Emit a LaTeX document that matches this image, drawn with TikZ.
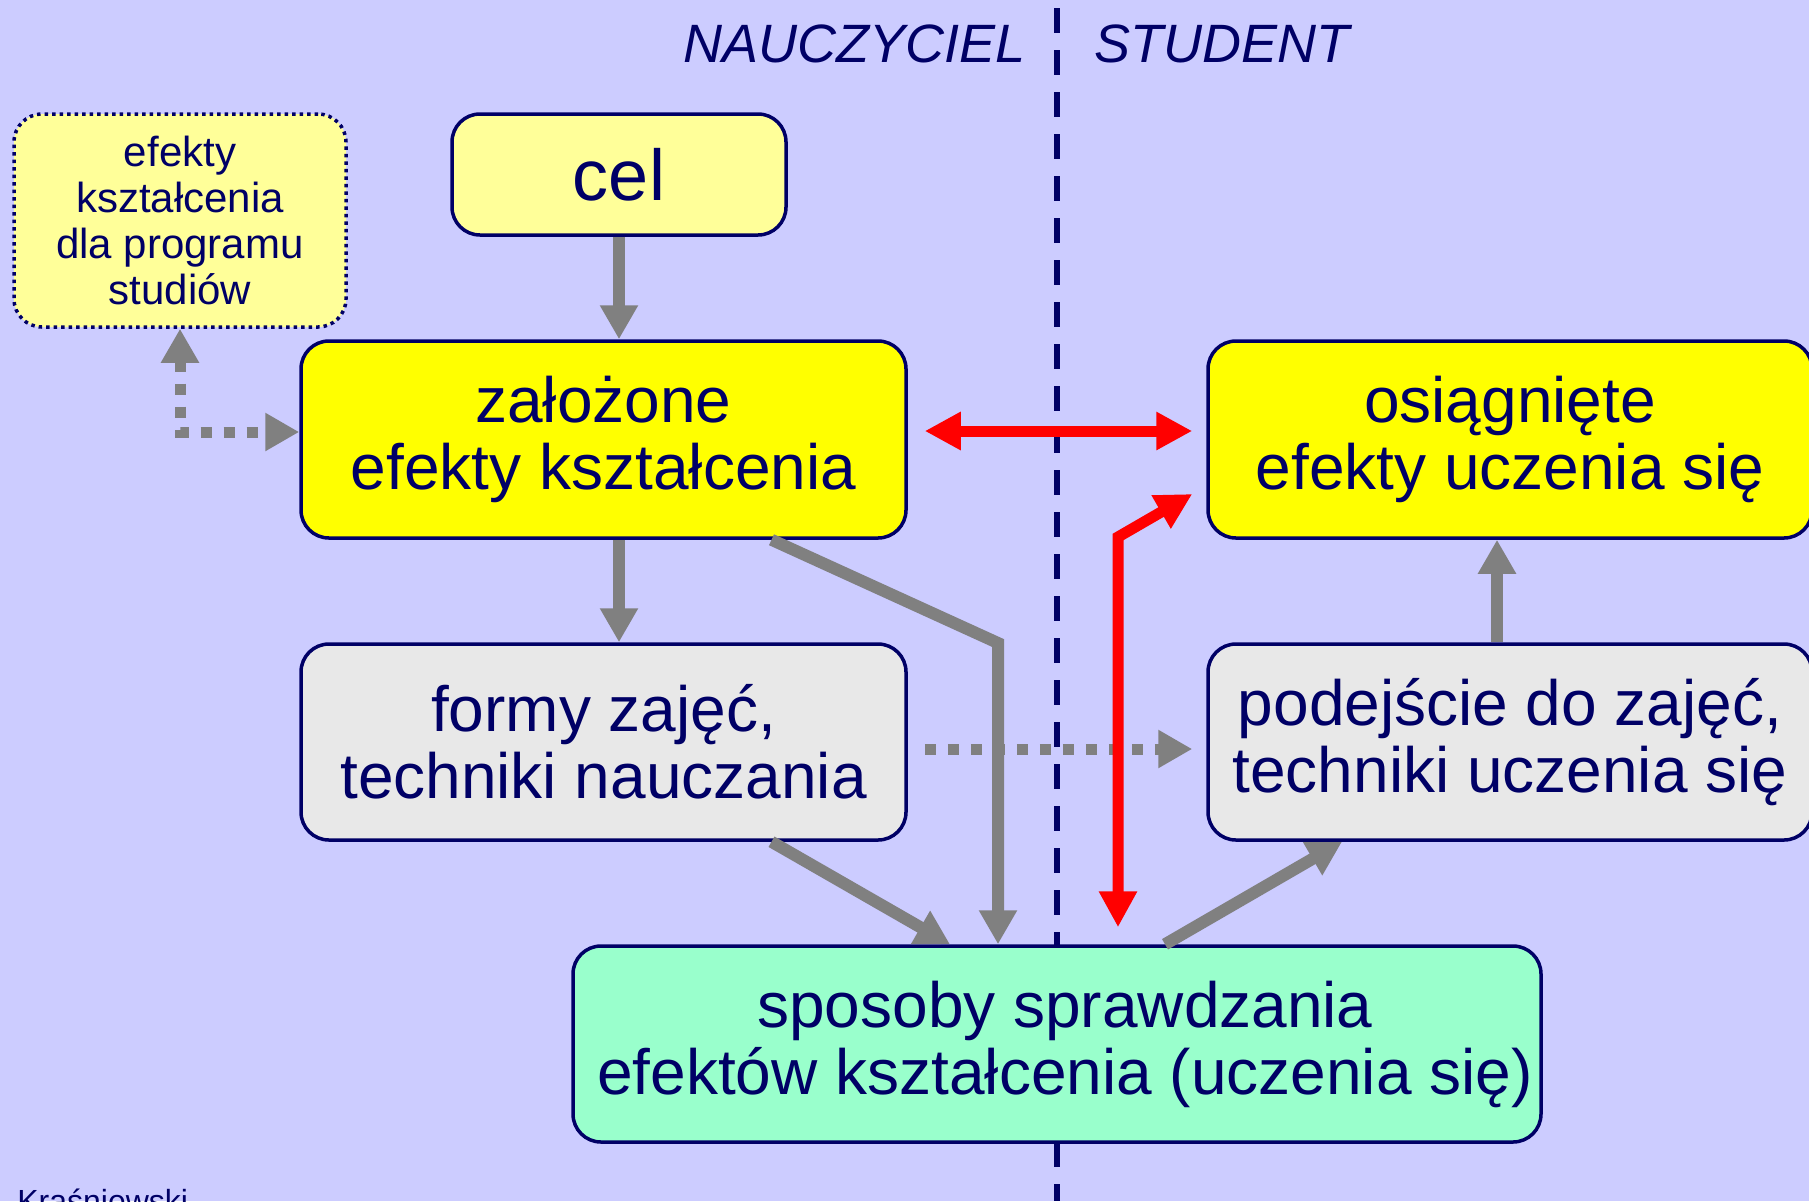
\documentclass[tikz,border=0pt]{standalone}
\usepackage{fontspec}
\setmainfont{Liberation Sans}
\usepackage{tikz}
\usetikzlibrary{arrows.meta}
\definecolor{bgblue}{HTML}{CCCCFF}
\definecolor{navy}{HTML}{000066}
\definecolor{goalyellow}{HTML}{FFFF99}
\definecolor{effyellow}{HTML}{FFFF00}
\definecolor{formgray}{HTML}{E8E8E8}
\definecolor{checkgreen}{HTML}{99FFCC}
\definecolor{arrowgray}{HTML}{808080}
\tikzstyle{block}=[draw=navy,line width=1.75pt,rounded corners=14pt,inner sep=0pt,align=center,text=navy,font=\fontsize{32}{33.5}\selectfont]
\tikzstyle{head}=[text=navy,inner sep=0pt,font=\fontsize{27}{30}\selectfont\itshape]
\tikzstyle{link}=[draw=arrowgray,line width=6pt]

\begin{document}
\begin{tikzpicture}[x=0.5pt,y=-0.5pt]
        \tikzset{link/.append style = {-{Triangle[width=18pt,length=17pt]}},
          dotlink/.style = {link,line width=5.5pt,dash pattern=on 5.5pt off 6pt},
          redlink/.style = {draw=red,line width=5.5pt,{Triangle[width=18pt,length=18pt]}-{Triangle[width=18pt,length=18pt]}}}
        \fill[bgblue] (0,0) rectangle (1809,1201);
        \useasboundingbox (0,0) rectangle (1809,1201);
        \draw[navy,line width=3pt,dash pattern=on 12.5pt off 8.5pt] (1057,8) -- (1057,1201);
        \node[head,anchor=east] (teacher) at (1026,44) {NAUCZYCIEL};
        \node[head,anchor=west] (student) at (1094,44) {STUDENT};
        \node[block,fill=goalyellow,minimum width=167pt,minimum height=60.5pt,font=\fontsize{36}{40}\selectfont] (cel) at (619,174.5) {cel};
        \node[block,fill=goalyellow,dash pattern=on 1.75pt off 2pt,minimum width=166pt,minimum height=106.5pt,font=\fontsize{21}{23}\selectfont] (prog) at (180,220.5) {efekty\\kształcenia\\dla programu\\studiów};
        \node[block,fill=effyellow,minimum width=302.5pt,minimum height=98.5pt] (zal) at (603.5,439.5) {założone\\efekty kształcenia};
        \node[block,fill=effyellow,minimum width=302pt,minimum height=98.5pt] (osi) at (1510,439.5) {osiągnięte\\efekty uczenia się};
        \node[block,fill=formgray,minimum width=302.5pt,minimum height=98pt] (formy) at (603.5,742) {formy zajęć,\\techniki nauczania};
        \node[block,fill=formgray,minimum width=302pt,minimum height=98pt] (pod) at (1510,742) {podejście do zajęć,\\techniki uczenia się};
        \node[block,fill=checkgreen,minimum width=484pt,minimum height=98pt] (spr) at (1057,1044) {\hspace*{8pt}sposoby sprawdzania\\\hspace*{8pt}efektów kształcenia (uczenia się)};
        \node[anchor=base west,inner sep=0pt,text=navy,font=\fontsize{16}{18}\selectfont] (author) at (17,1212) {Kraśniewski};
        \coordinate (kink) at (998,643);
        \coordinate (rbend) at (1118,537);
        \draw[link] (cel.south) -- (cel.south |- zal.north);
        \draw[link] (zal.south -| cel.south) -- (formy.north -| cel.south);
        \draw[link] ([xshift=84pt]zal.south) -- (kink) -- (kink |- spr.north);
        \draw[link] ([xshift=84pt]formy.south) -- ([xshift=-53.5pt]spr.north);
        \draw[link] ([xshift=54pt]spr.north) -- ([xshift=-84pt]pod.south);
        \draw[link] ([xshift=-6.5pt]pod.north) -- ([xshift=-6.5pt]osi.south);
        \draw[dotlink,{Triangle[width=18pt,length=17pt]}-{Triangle[width=18pt,length=17pt]}] (prog.south) |- ([yshift=3.75pt]zal.west);
        \draw[dotlink,shorten <=8.5pt,shorten >=7pt] ([yshift=-3.5pt]formy.east) -- ([yshift=-3.5pt]pod.west);
        \draw[redlink,shorten <=8.5pt,shorten >=7pt] ([yshift=4.25pt]zal.east) -- ([yshift=4.25pt]osi.west);
        \draw[redlink,shorten <=8.5pt] (rbend |- spr.north) -- (rbend) -- ([xshift=-7pt,yshift=-27.25pt]osi.west);
      \end{tikzpicture}
\end{document}
